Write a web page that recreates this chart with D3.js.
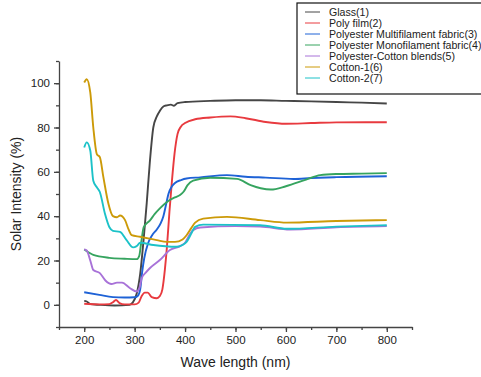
<!DOCTYPE html>
<html>
  <head>
    <meta charset="utf-8">
    <title>Solar intensity vs wave length</title>
    <script src="https://d3js.org/d3.v7.min.js"></script>
    <style>
      body { margin: 0; background: #fff; }
      svg { display: block; font-family: Arial, "Liberation Sans", sans-serif; }
    </style>
  </head>
  <body>
    <div id="chart"></div>
    <script>

      // Data: [wave length (nm), solar intensity (%)]
      var glass = [[200,1.8],[205,1.5],[212,0.3],[230,0],[260,-0.3],[290,0],[296,1],[304,5],[311,14],[318,30],[324,46],[330,64],[337,80],[344,85],[350,87.5],[357,89.5],[364,90],[372,90.3],[378,89.8],[385,91],[400,91.5],[450,92],[500,92.3],[550,92.3],[600,92],[650,91.8],[700,91.5],[750,91.2],[800,90.8]];
      var polyFilm = [[200,0.5],[230,0.2],[250,0.3],[257,1.2],[263,2.2],[270,0.8],[280,0.2],[300,0.2],[308,1],[314,4],[320,5.5],[326,5.5],[334,3.5],[344,3],[350,4],[355,7],[360,16],[364,26],[369,42],[374,56],[379,68],[385,77],[392,80.5],[400,82],[420,83.7],[450,84.5],[490,85],[520,84.2],[560,82.5],[600,81.7],[650,82],[700,82.3],[800,82.4]];
      var multifilament = [[200,5.7],[230,4.5],[257,3.5],[280,3.3],[300,3.4],[306,4],[311,7],[315,15],[319,21],[327,28],[335,31.5],[344,34],[352,37],[357,40],[363,46],[367,50],[374,53.5],[380,55],[392,56.3],[403,57],[430,57.5],[483,58.5],[520,57.8],[560,57.4],[615,56.8],[650,57.2],[700,57.6],[800,58]];
      var monofilament = [[200,25],[210,23.5],[218,22.5],[250,21.2],[280,20.8],[304,20.6],[309,22],[313,28],[318,35],[330,38],[340,41],[350,43.5],[364,46.4],[380,48.5],[390,49.5],[397,51],[405,54],[416,56],[450,57.3],[503,56.8],[530,54],[550,52.6],[570,52],[600,53.5],[640,56.5],[668,58.5],[700,59],[750,59.2],[800,59.4]];
      var blends = [[200,25],[205,24.5],[212,20],[218,15.7],[231,14.3],[242,11],[254,9.4],[265,10],[275,10],[291,7.5],[304,6],[310,8],[314,12],[322,14.5],[330,16.5],[350,20.2],[370,24.7],[390,26.5],[400,28],[410,32],[416,33.7],[430,34.9],[500,35.5],[549,35.3],[608,34],[700,35],[800,35.5]];
      var cotton1 = [[200,100.3],[205,101.8],[212,95.8],[218,80],[225,68],[231,66.6],[238,57.6],[248,45.6],[257,40],[265,39.5],[271,40.3],[281,38.2],[288,34],[294,31.4],[311,30.7],[344,29.2],[364,28.4],[380,28.4],[395,29.5],[403,31.4],[412,34.5],[420,37.1],[436,38.9],[483,39.7],[549,38.2],[602,37.1],[700,37.8],[800,38.2]];
      var cotton2 = [[200,71],[205,73.3],[212,69.6],[218,56],[225,53],[231,50.9],[241,41.2],[250,35],[257,33.4],[271,32.9],[284,29.2],[297,25.9],[304,26.5],[311,28],[337,27],[383,26.2],[395,27],[403,28.4],[412,32],[420,35.2],[436,36.2],[549,35.9],[602,34.3],[700,35.3],[800,35.9]];

      var names = ["Glass(1)", "Poly film(2)", "Polyester Multifilament fabric(3)", "Polyester Monofilament fabric(4)", "Polyester-Cotton blends(5)", "Cotton-1(6)", "Cotton-2(7)"];
      var colors = ["#464646", "#e83a3f", "#1e62d6", "#36a45f", "#a872d8", "#cc9a08", "#1cc2c8"];
      var seriesData = [glass, polyFilm, multifilament, monofilament, blends, cotton1, cotton2];

      var xTicks = [200, 300, 400, 500, 600, 700, 800];
      var yTicks = [0, 20, 40, 60, 80, 100];

      var width = 481, height = 377;
      var margin = {left: 59, right: 69, top: 61, bottom: 50};

      var svg = d3.select("#chart").append("svg")
        .attr("width", width)
        .attr("height", height);

      var x = d3.scaleLinear().domain([150, 850]).range([margin.left, width - margin.right]);
      var y = d3.scaleLinear().domain([-10, 110]).range([height - margin.bottom, margin.top]);

      // x axis: major ticks every 100 labelled, minor every 50
      var xAxis = svg.append("g")
        .attr("transform", "translate(0," + (height - margin.bottom) + ")");
      xAxis.append("g")
        .call(d3.axisBottom(x).tickValues(d3.range(150, 851, 50)).tickSize(3).tickFormat(""))
        .call(function (g) { g.select(".domain").remove(); });
      xAxis.append("g")
        .call(d3.axisBottom(x).tickValues(xTicks).tickSize(5).tickSizeOuter(0).tickPadding(4))
        .call(function (g) { g.selectAll("text").attr("font-size", 11.5).attr("fill", "#222"); });
      xAxis.selectAll("line, path").attr("stroke", "#444").attr("stroke-width", 1.3);

      // y axis: labels every 20, minor every 10
      var yAxis = svg.append("g")
        .attr("transform", "translate(" + margin.left + ",0)");
      yAxis.append("g")
        .call(d3.axisLeft(y).tickValues(d3.range(-10, 111, 10)).tickSize(3).tickFormat(""))
        .call(function (g) { g.select(".domain").remove(); });
      yAxis.append("g")
        .call(d3.axisLeft(y).tickValues(yTicks).tickSize(5).tickSizeOuter(0).tickPadding(4))
        .call(function (g) { g.selectAll("text").attr("font-size", 11.5).attr("fill", "#222"); });
      yAxis.selectAll("line, path").attr("stroke", "#444").attr("stroke-width", 1.3);

      svg.append("text")
        .attr("x", x(500))
        .attr("y", 367)
        .attr("text-anchor", "middle")
        .attr("font-size", 14)
        .attr("fill", "#222")
        .text("Wave length (nm)");

      svg.append("text")
        .attr("transform", "translate(21," + y(50) + ") rotate(-90)")
        .attr("text-anchor", "middle")
        .attr("font-size", 14)
        .attr("fill", "#222")
        .text("Solar Intensity (%)");

      var line = d3.line()
        .x(function (d) { return x(d[0]); })
        .y(function (d) { return y(d[1]); })
        .curve(d3.curveMonotoneX);

      svg.selectAll(".series").data(seriesData)
        .enter().append("path")
          .attr("class", "series")
          .attr("fill", "none")
          .attr("stroke", function (d, i) { return colors[i]; })
          .attr("stroke-width", 1.9)
          .attr("stroke-linejoin", "round")
          .attr("d", line);

      // legend box, runs past the right edge like the original
      var legend = svg.append("g").attr("transform", "translate(297,3)");
      legend.append("rect")
        .attr("x", 0).attr("y", 0)
        .attr("width", 200).attr("height", 91)
        .attr("fill", "#fff")
        .attr("stroke", "#111")
        .attr("stroke-width", 1.2);

      var rows = legend.selectAll(".row").data(names)
        .enter().append("g")
          .attr("class", "row")
          .attr("transform", function (d, i) { return "translate(0," + (9 + i * 11) + ")"; });
      rows.append("line")
        .attr("x1", 8).attr("x2", 23)
        .attr("stroke", function (d, i) { return colors[i]; })
        .attr("stroke-width", 1);
      rows.append("text")
        .attr("x", 32)
        .attr("dy", "0.35em")
        .attr("font-size", 10.6)
        .attr("fill", "#222")
        .text(function (d) { return d; });

    </script>
  </body>
</html>
